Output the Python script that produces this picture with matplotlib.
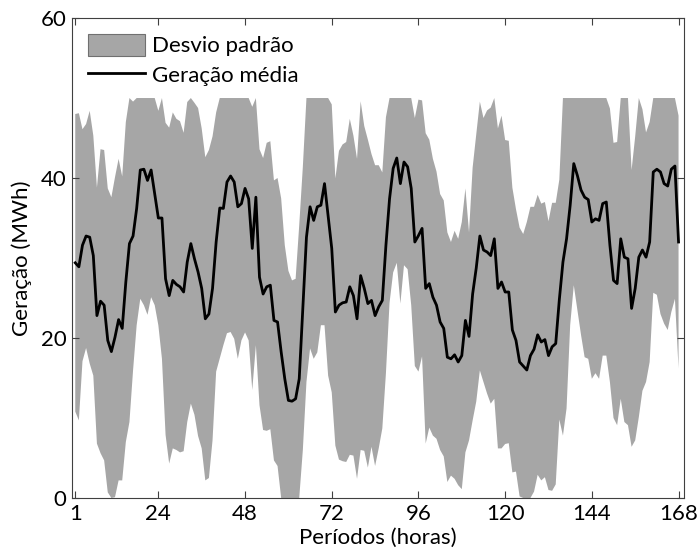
import numpy as np
import matplotlib
matplotlib.use("Agg")
import matplotlib.pyplot as plt

# hourly mean generation (MWh), hours 1..168
media = [
    29.4, 28.9, 31.6, 32.75, 32.6, 30.3, 22.8, 24.6, 24.1, 19.7,
    18.3, 20.1, 22.3, 21.2, 27.0, 31.8, 32.75, 36.2, 41.0, 41.1,
    39.7, 41.0, 38.0, 35.0, 35.0, 27.4, 25.3, 27.2, 26.7, 26.4,
    25.75, 29.5, 31.8, 29.9, 28.25, 26.2, 22.4, 23.0, 26.2, 32.0,
    36.25, 36.2, 39.5, 40.25, 39.5, 36.4, 36.8, 38.7, 37.4, 31.2,
    37.6, 27.6, 25.5, 26.4, 26.6, 22.2, 22.0, 18.25, 14.9, 12.2,
    12.1, 12.4, 14.9, 23.7, 32.6, 36.4, 34.7, 36.4, 36.6, 39.3,
    35.3, 31.2, 23.25, 24.1, 24.4, 24.5, 26.4, 25.3, 22.4, 27.8,
    26.2, 24.3, 24.7, 22.8, 23.9, 24.7, 31.6, 37.4, 41.2, 42.5,
    39.3, 42.0, 41.4, 38.7, 32.0, 32.8, 33.7, 26.2, 26.8, 25.1,
    24.1, 22.0, 21.2, 17.6, 17.4, 17.9, 17.0, 17.8, 22.2, 20.2,
    25.5, 28.75, 32.75, 31.0, 30.75, 30.3, 32.4, 26.2, 27.0, 25.75,
    25.75, 21.0, 19.7, 17.0, 16.5, 16.0, 17.8, 18.6, 20.4, 19.5,
    19.8, 17.8, 18.9, 19.3, 24.8, 29.5, 32.4, 36.6, 41.8, 40.3,
    38.5, 37.6, 37.3, 34.5, 34.9, 34.7, 36.8, 37.0, 31.6, 27.2,
    26.8, 32.4, 30.1, 29.9, 23.7, 26.2, 30.1, 31.0, 30.1, 32.0,
    40.75, 41.1, 40.75, 39.3, 39.0, 41.1, 41.5, 32.0,
]

# hourly standard deviation (MWh)
desvio = [
    18.6, 19.2, 14.5, 14.0, 15.8, 15.0, 16.0, 19.0, 19.4, 19.0,
    19.3, 20.0, 20.1, 19.0, 20.0, 22.3, 16.8, 14.6, 16.1, 17.0,
    16.8, 15.9, 13.9, 13.4, 17.6, 19.5, 21.0, 21.0, 20.7, 20.7,
    19.9, 20.0, 20.0, 19.5, 20.5, 20.0, 20.2, 20.5, 19.0, 16.2,
    18.8, 17.1, 18.9, 19.5, 19.6, 19.0, 17.1, 18.0, 17.7, 17.7,
    18.5, 16.0, 17.0, 18.0, 18.0, 17.5, 18.0, 19.2, 16.7, 16.2,
    15.1, 15.0, 19.2, 17.7, 18.1, 17.7, 17.3, 18.2, 15.0, 17.7,
    20.0, 18.0, 16.7, 19.3, 19.8, 20.0, 21.0, 20.0, 20.0, 21.8,
    20.3, 20.5, 18.3, 18.8, 17.7, 16.0, 16.0, 13.0, 13.0, 13.1,
    15.0, 12.9, 12.8, 14.6, 15.5, 17.0, 16.0, 19.4, 18.0, 17.3,
    16.7, 16.0, 16.0, 15.6, 14.6, 15.5, 15.4, 16.7, 16.5, 13.0,
    15.8, 16.7, 16.8, 16.5, 17.7, 18.5, 20.0, 20.0, 20.8, 19.0,
    18.9, 17.8, 16.4, 16.8, 16.5, 18.5, 18.6, 17.8, 17.5, 17.3,
    17.2, 16.8, 18.0, 17.6, 15.0, 21.7, 21.2, 15.0, 15.2, 16.8,
    18.1, 20.0, 19.9, 19.6, 19.3, 19.8, 19.0, 19.2, 17.1, 17.2,
    17.7, 20.0, 20.6, 20.8, 17.3, 19.0, 20.0, 17.6, 15.6, 15.0,
    15.1, 15.7, 17.75, 17.5, 18.0, 17.85, 16.6, 15.8,
]

capacidade = 50  # band is limited to [0, capacity]
xticks = [1, 24, 48, 72, 96, 120, 144, 168]
yticks = [0, 20, 40, 60]

plt.rcParams['font.family'] = ['Lato', 'DejaVu Sans']

horas = np.arange(1, len(media) + 1)
media = np.array(media)
desvio = np.array(desvio)
sup = np.clip(media + desvio, 0, capacidade)
inf = np.clip(media - desvio, 0, capacidade)

fig = plt.figure(figsize=(6.97, 5.51), dpi=100)
ax = fig.add_axes([0.1033, 0.0962, 0.878, 0.8711])

ax.fill_between(horas, inf, sup, facecolor="#a6a6a6", edgecolor="none",
                label="Desvio padrão")
ax.plot(horas, media, color="black", linewidth=2.0, label="Geração média")

ax.set_xlim(0.1, 169.5)
ax.set_ylim(0, 60)
ax.set_xticks(xticks)
ax.set_yticks(yticks)
ax.tick_params(direction="in", top=True, right=True, length=5,
               labelsize=16, color="#404040", pad=4)
for s in ax.spines.values():
    s.set_color("#404040")
    s.set_linewidth(0.8)

ax.set_xlabel("Períodos (horas)", fontsize=16, labelpad=3)
ax.set_ylabel("Geração (MWh)", fontsize=16, labelpad=6)

leg = ax.legend(loc="upper left", frameon=False, fontsize=16,
                handlelength=2.6, handleheight=1.2, borderaxespad=0.3,
                labelspacing=0.3, handletextpad=0.3)
leg.legend_handles[0].set_edgecolor("#707070")
leg.legend_handles[0].set_linewidth(0.8)

fig.savefig("out.png", dpi=100)
